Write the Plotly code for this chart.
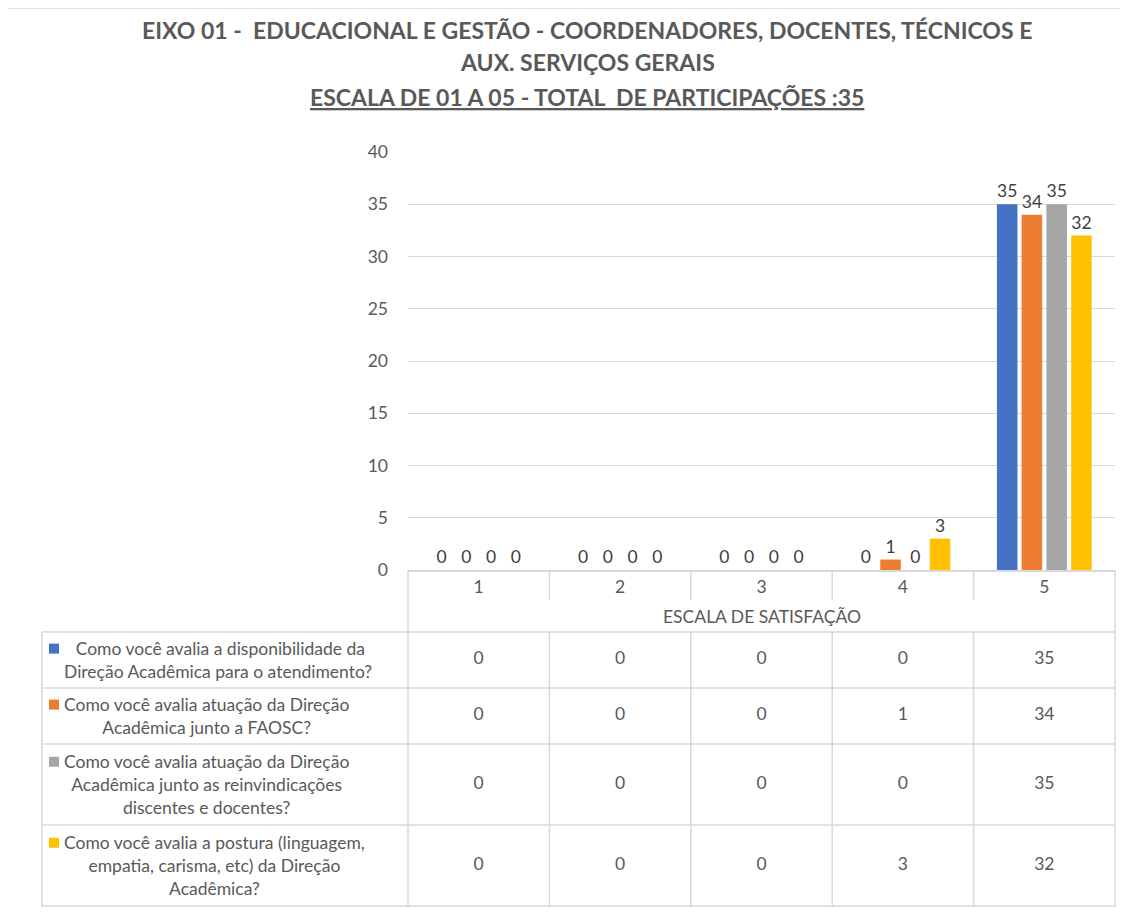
import plotly.graph_objects as go

W, H = 1128, 913
OFF = 8  # page body margin of the browser

categories = ["1", "2", "3", "4", "5"]
series_names = [
    " Como você avalia a disponibilidade da<br>Direção Acadêmica para o atendimento?",
    "Como você avalia atuação da Direção<br>Acadêmica junto a FAOSC?",
    "Como você avalia atuação da Direção<br>Acadêmica junto as reinvindicações<br>discentes e docentes?",
    "Como você avalia a postura (linguagem,<br>empatia, carisma, etc) da Direção<br>Acadêmica?",
]
values = [
    [0, 0, 0, 0, 35],
    [0, 0, 0, 1, 34],
    [0, 0, 0, 0, 35],
    [0, 0, 0, 3, 32],
]
colors = ["#4472C4", "#ED7D31", "#A5A5A5", "#FFC000"]
title_lines = [
    "<b>EIXO 01 -  EDUCACIONAL E GESTÃO - COORDENADORES, DOCENTES, TÉCNICOS E</b>",
    "<b>AUX. SERVIÇOS GERAIS</b>",
    "<b><u>ESCALA DE 01 A 05 - TOTAL  DE PARTICIPAÇÕES :35</u></b>",
]
x_title = "ESCALA DE SATISFAÇÃO"

FONT = "Lato"
TXT = "#595959"
LINE = "#D9D9D9"
FS = 17.5

def px(x):
    return (x - OFF) / W

def py(y):
    return 1 - (y - OFF) / H

# layout geometry (pixels, in the screenshot)
PL, PR, PT, PB = 408, 1115, 152, 570
TBOT = 907
TLEFT = 42
HEADER = 62
LINE_H = 1.3 * FS

fig = go.Figure()
for name, vals, col in zip(series_names, values, colors):
    fig.add_trace(go.Bar(
        x=categories, y=vals, name=name.replace("<br>", " "),
        marker=dict(color=col, line=dict(width=0)),
        text=vals, textposition="outside", cliponaxis=False,
        textfont=dict(family=FONT, size=FS, color="#404040"),
        hoverinfo="skip",
    ))

# table rows
n_lines = [s.count("<br>") + 1 for s in series_names]
row_h = [6 + 25 * n for n in n_lines]
row_top = []
acc = HEADER
for h in row_h:
    row_top.append(acc)
    acc += h
row_center = [t + h / 2 for t, h in zip(row_top, row_h)]

for i, vals in enumerate(values):
    fig.add_trace(go.Scatter(
        x=categories, y=[row_center[i]] * len(categories),
        mode="text", text=[str(v) for v in vals],
        textfont=dict(family=FONT, size=FS, color=TXT),
        xaxis="x", yaxis="y2", hoverinfo="skip", showlegend=False,
    ))

shapes = []
annotations = []

# outer chart border
shapes.append(dict(type="rect", xref="paper", yref="paper",
                   x0=px(6.5), x1=px(W + 40), y0=py(H + 40), y1=py(8),
                   line=dict(color=LINE, width=1.5)))

def hline(y, x0, x1):
    shapes.append(dict(type="line", xref="paper", yref="paper",
                       x0=px(x0), x1=px(x1), y0=py(y), y1=py(y),
                       line=dict(color=LINE, width=1.5)))

def vline(x, y0, y1):
    shapes.append(dict(type="line", xref="paper", yref="paper",
                       x0=px(x), x1=px(x), y0=py(y0), y1=py(y1),
                       line=dict(color=LINE, width=1.5)))

# table lines
hline(PB + HEADER, TLEFT, PR)
for t, h in zip(row_top, row_h):
    hline(PB + t + h, TLEFT, PR)
vline(PL, PB, TBOT)
vline(PR, PB, TBOT)
vline(TLEFT, PB + HEADER, TBOT)
for k in range(1, len(categories)):
    xb = PL + (PR - PL) * k / len(categories)
    vline(xb, PB, PB + 30)
    vline(xb, PB + HEADER, TBOT)

# legend cells: key square + centred multi-line label starting after it
for i, name in enumerate(series_names):
    n = n_lines[i]
    yc = PB + row_center[i]
    y_first = yc - LINE_H * (n - 1) / 2
    annotations.append(dict(
        xref="paper", yref="paper", x=px(62), y=py(yc),
        text=name, showarrow=False, xanchor="left", yanchor="middle", align="center",
        font=dict(family=FONT, size=FS, color=TXT)))
    shapes.append(dict(type="rect", xref="paper", yref="paper",
                       x0=px(49), x1=px(59), y0=py(y_first + 5), y1=py(y_first - 5),
                       fillcolor=colors[i], line=dict(width=0)))

# axis title inside table
annotations.append(dict(xref="paper", yref="paper", x=px((PL + PR) / 2), y=py(616),
                        text=x_title, showarrow=False, xanchor="center", yanchor="middle",
                        font=dict(family=FONT, size=FS, color=TXT)))

# title
for y, t in zip([30, 62, 97], title_lines):
    annotations.append(dict(xref="paper", yref="paper", x=px(587), y=py(y),
                            text=t, showarrow=False, xanchor="center", yanchor="middle",
                            font=dict(family=FONT, size=23, color=TXT)))

fig.update_layout(
    width=W, height=H,
    margin=dict(l=0, r=0, t=0, b=0, pad=0, autoexpand=False),
    paper_bgcolor="white", plot_bgcolor="white",
    barmode="group", bargap=0.3, bargroupgap=0.17,
    showlegend=False,
    xaxis=dict(domain=[px(PL), px(PR)], type="category", automargin=False,
               showgrid=False, showline=True, linecolor=LINE, linewidth=1.5,
               ticks="", ticklabelstandoff=0,
               tickfont=dict(family=FONT, size=FS, color=TXT), anchor="y"),
    yaxis=dict(domain=[py(PB), py(PT)], range=[0, 40], dtick=5, automargin=False,
               showgrid=True, gridcolor=LINE, gridwidth=1.3,
               zeroline=False, showline=False, ticks="",
               ticklabelstandoff=19,
               tickfont=dict(family=FONT, size=FS, color=TXT), anchor="x"),
    yaxis2=dict(domain=[py(TBOT), py(PB)], range=[TBOT - PB, 0], automargin=False,
                showgrid=False, zeroline=False, showticklabels=False,
                showline=False, anchor="x"),
    shapes=shapes, annotations=annotations,
    font=dict(family=FONT, color=TXT),
)

fig.write_html("out.html")
